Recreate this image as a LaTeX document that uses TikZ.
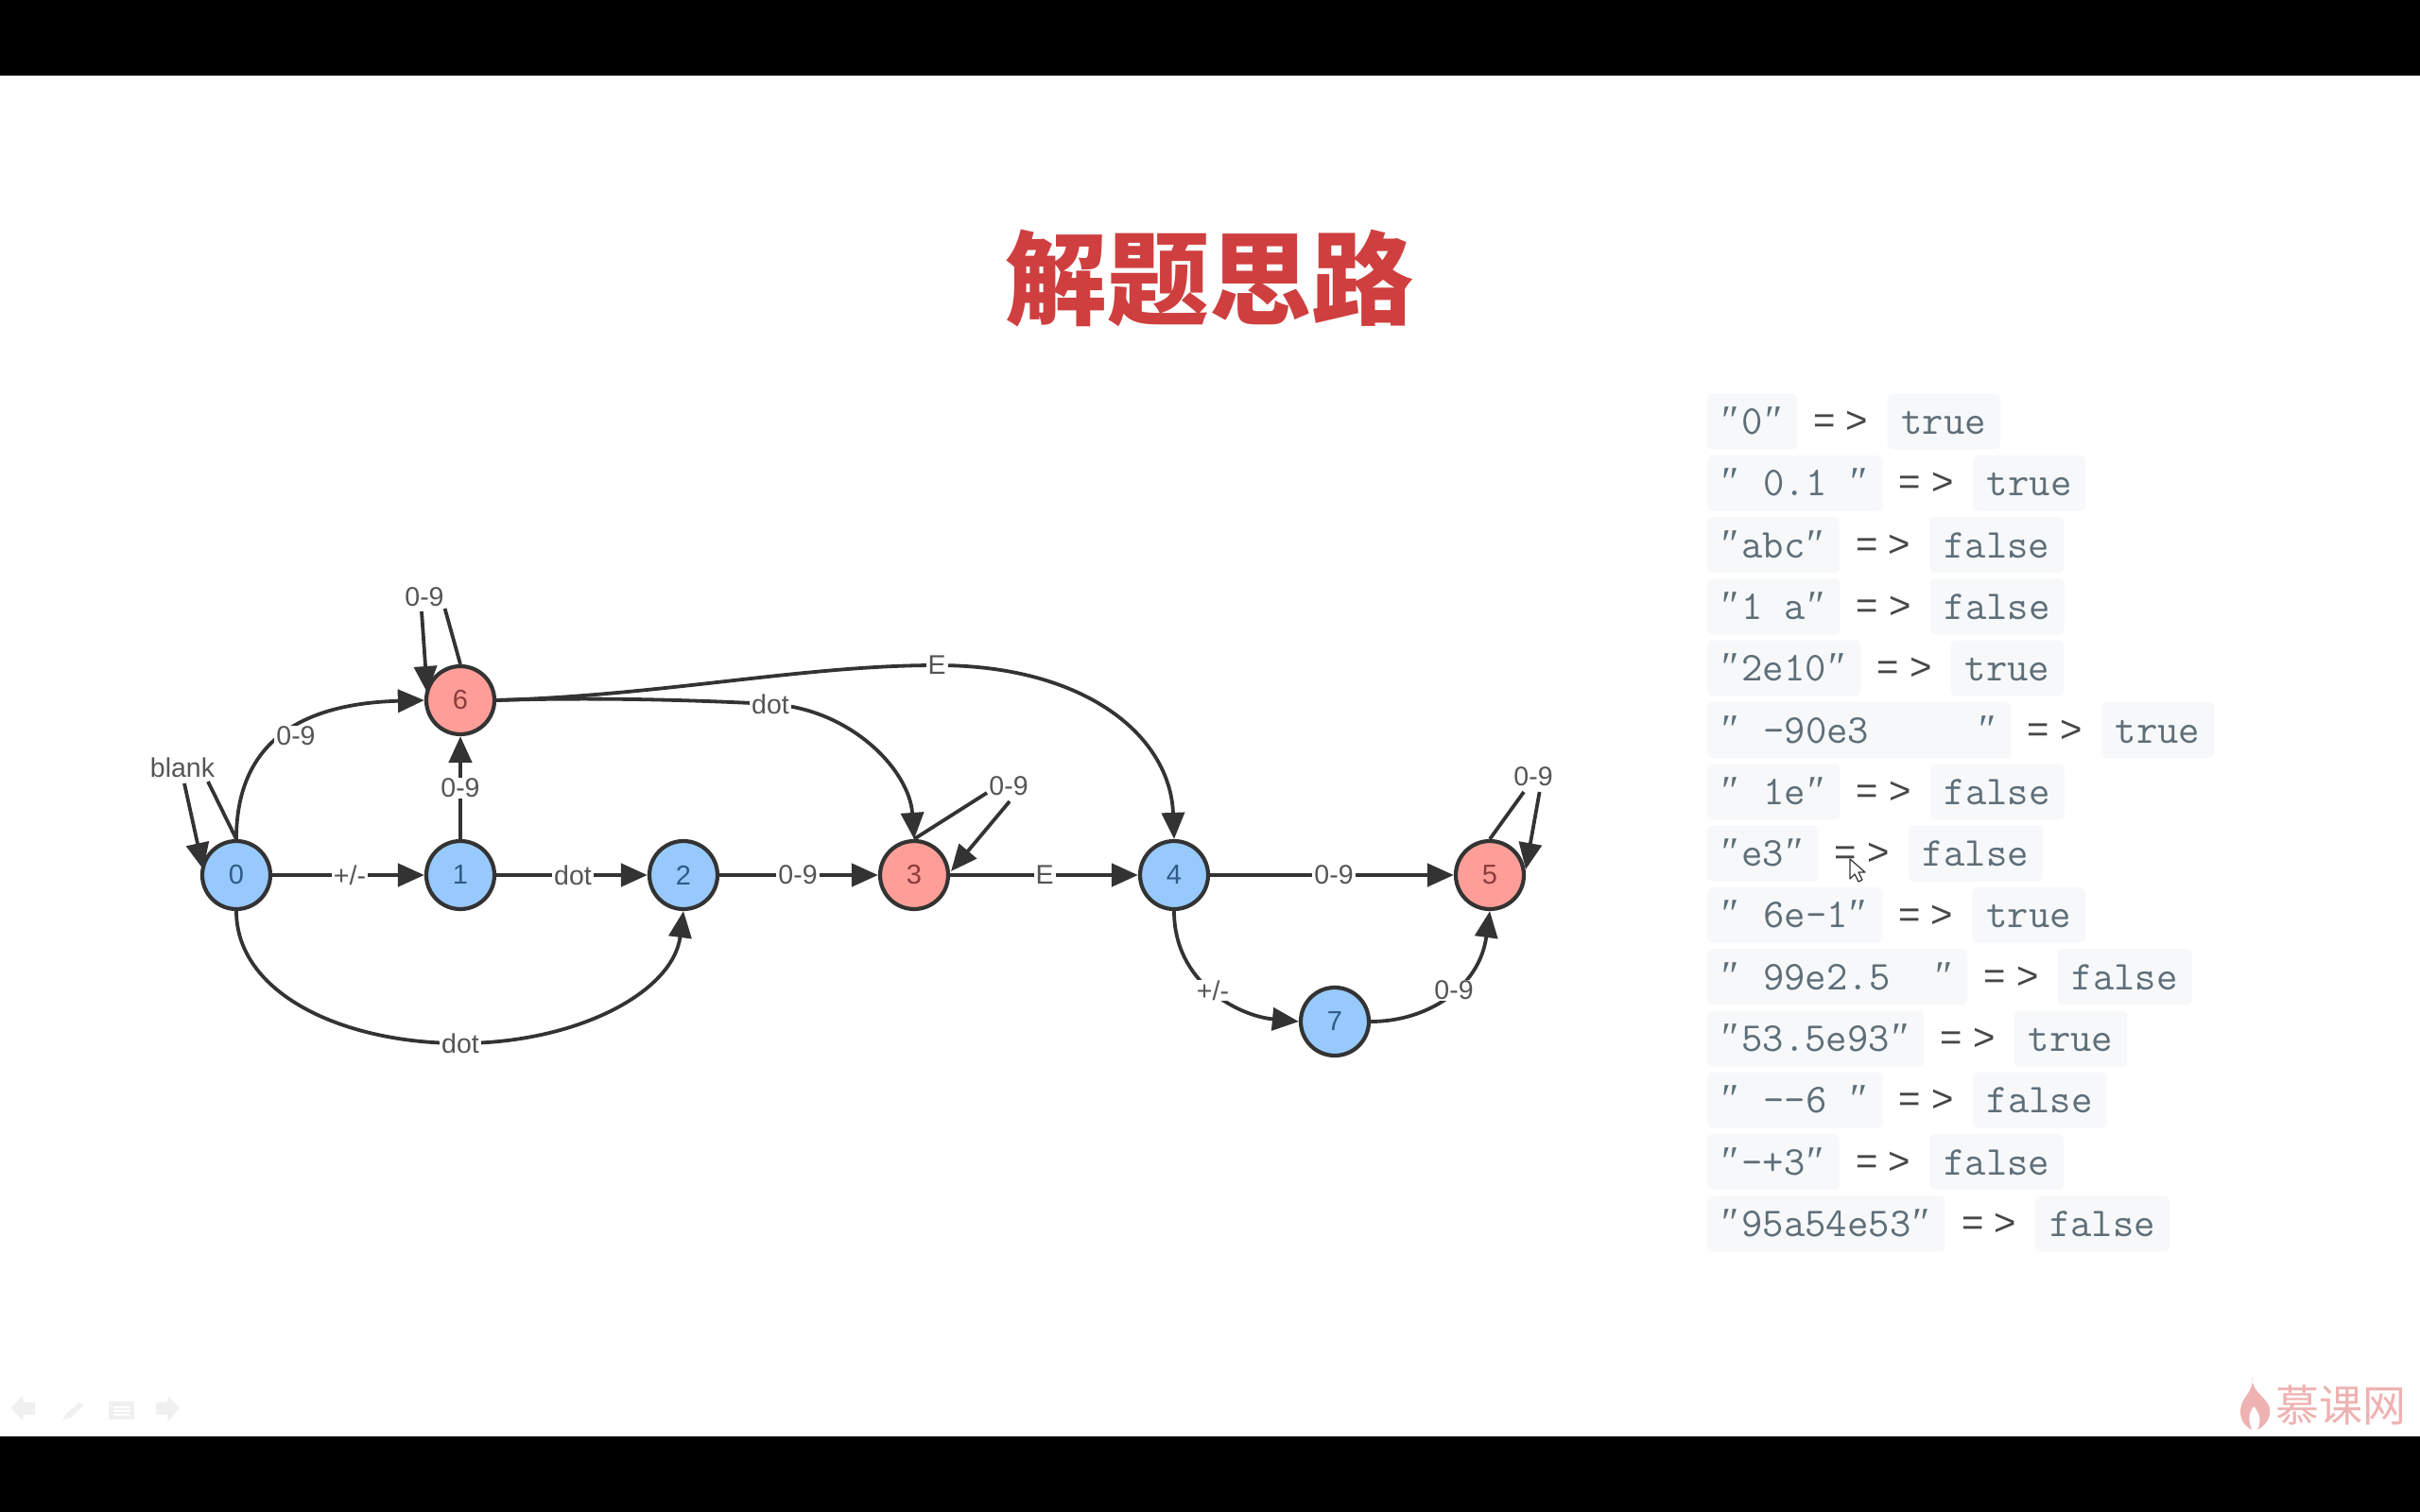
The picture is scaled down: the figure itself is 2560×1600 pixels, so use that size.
\documentclass[tikz,border=0pt]{standalone}
\usepackage{fontspec}
\setmainfont{Liberation Sans}
\newfontfamily\cjk{Noto Sans CJK SC}
\newfontfamily\qfont{Liberation Serif}
\usetikzlibrary{arrows.meta,calc}
\definecolor{blueF}{HTML}{97C9FD}
\definecolor{redF}{HTML}{FF9E98}
\definecolor{lineC}{HTML}{333333}
\definecolor{labC}{HTML}{555555}
\definecolor{codeBg}{HTML}{F6F8FA}
\definecolor{codeC}{HTML}{5E6E78}
\definecolor{titleC}{HTML}{CF3F3F}
\definecolor{markC}{HTML}{EEB2B2}
\definecolor{navC}{HTML}{F0F0F0}
\definecolor{blueT}{HTML}{2F5C86}
\definecolor{redT}{HTML}{8A3C3C}
\newcommand\Q{\makebox[22.8pt]{\qfont\fontsize{44}{44}\selectfont ″}}
\newcommand\SP{\hspace*{22.8pt}}
\tikzset{
  x=1pt,y=-1pt,
  state/.style={circle,draw=lineC,line width=4.2pt,minimum size=72pt,inner sep=0pt,
     font=\fontsize{29}{32}\selectfont},
  bluestate/.style={state,fill=blueF,text=blueT},
  redstate/.style={state,fill=redF,text=redT},
  edge/.style={draw=lineC,line width=4.6pt,-{Triangle[length=28pt,width=24pt]}},
  thin edge/.style={draw=lineC,line width=3.8pt,-{Triangle[length=28pt,width=24pt]}},
  plain edge/.style={draw=lineC,line width=3.8pt},
  elab/.style={fill=white,text=labC,inner xsep=2pt,inner ysep=1pt,font=\fontsize{28.5}{32}\selectfont},
  flab/.style={text=labC,inner sep=1pt,font=\fontsize{28.5}{32}\selectfont},
  cbox/.style={fill=codeBg,rounded corners=6pt,inner xsep=13.5pt,inner ysep=13.5pt,
     text height=29.5pt,text depth=2.5pt,text=codeC,
     font=\ttfamily\fontsize{43.43}{46}\selectfont},
  gives/.style={inner sep=0pt,text=lineC!90,font=\fontsize{40}{44}\selectfont},
}
\newcommand\rowline[4]{%
  \node[cbox,anchor=west] (a#1) at (1806,#2) {#3};
  \node[gives,anchor=west] (g#1) at ($(a#1.east)+(17,1)$) {=\hspace{11pt}>};
  \node[cbox,inner xsep=15pt,anchor=west] (b#1) at ($(a#1.east)+(95,0)$) {#4};
}
\begin{document}
\begin{tikzpicture}
\useasboundingbox (0,0) rectangle (2560,1600);
\fill[white] (0,0) rectangle (2560,1600);
\fill[black] (0,0) rectangle (2560,80);
\fill[black] (0,1520) rectangle (2560,1600);

\node[text=titleC,inner sep=0pt,font=\cjk\bfseries\fontsize{108}{112}\selectfont] (title) at (1279,295) {解题思路};

% states
\node[bluestate] (n0) at (250,926) {0};
\node[bluestate] (n1) at (487,926) {1};
\node[bluestate] (n2) at (723,926) {2};
\node[redstate]  (n3) at (967,926) {3};
\node[bluestate] (n4) at (1242,926) {4};
\node[redstate]  (n5) at (1576,926) {5};
\node[redstate]  (n6) at (487,741) {6};
\node[bluestate] (n7) at (1412,1081) {7};

% straight connectors
\draw[edge] (n0) -- (n1);
\draw[edge] (n1) -- (n2);
\draw[edge] (n2) -- (n3);
\draw[edge] (n3) -- (n4);
\draw[edge] (n4) -- (n5);
\draw[edge] (n1) -- (n6);

% curved connectors
\coordinate (c06) at (313,779);
\coordinate (c02) at (487,1104);
\coordinate (c64) at (991,704);
\coordinate (c63) at (815,745);
\coordinate (c47) at (1283,1048);
\coordinate (c75) at (1538,1048);
\draw[thin edge] (n0.north) .. controls (250,800) and (300,745) .. (n6.west);
\draw[thin edge] (n0.south) .. controls (250,1050) and (360,1104) .. (c02) .. controls (610,1104) and (712,1050) .. (n2.south);
\draw[thin edge] (n6.east) .. controls (700,736) and (850,704) .. (c64) .. controls (1150,704) and (1238,780) .. (n4.north);
\draw[thin edge] (n6.east) .. controls (620,738) and (720,740) .. (c63) .. controls (900,750) and (962,815) .. (n3.north);
\draw[thin edge] (n4.south) .. controls (1242,1040) and (1310,1075) .. (n7.west);
\draw[thin edge] (n7.east) .. controls (1510,1081) and (1565,1045) .. (n5.south);

% labels on connectors
\node[elab] (l01) at (370,926) {+/-};
\node[elab] (l12) at (606,926) {dot};
\node[elab] (l23) at (844,926) {0-9};
\node[elab] (l34) at (1105,926) {E};
\node[elab] (l45) at (1411,926) {0-9};
\node[elab] (l16) at (487,834) {0-9};
\node[elab] (l06) at (c06) {0-9};
\node[elab] (l02) at (c02) {dot};
\node[elab] (l64) at (c64) {E};
\node[elab] (l63) at (c63) {dot};
\node[elab] (l47) at (c47) {+/-};
\node[elab] (l75) at (c75) {0-9};

% self loops
\node[flab] (lp6) at (449,632) {0-9};
\coordinate (p6a) at (470.6,644);
\coordinate (p6b) at (446,647);
\coordinate (t6) at (452,733);
\draw[plain edge] (n6.north) -- (p6a);
\draw[thin edge] (p6b) -- (t6);

\node[flab] (lp0) at (193,812) {blank};
\coordinate (p0a) at (220,827);
\coordinate (p0b) at (195,829);
\coordinate (t0) at (215,920);
\draw[plain edge] (n0.north) -- (p0a);
\draw[thin edge] (p0b) -- (t0);

\node[flab] (lp3) at (1067,832) {0-9};
\coordinate (p3a) at (1044,839);
\coordinate (p3b) at (1068,848);
\coordinate (t3) at (1006,922);
\draw[plain edge] (n3.north) -- (p3a);
\draw[thin edge] (p3b) -- (t3);

\node[flab] (lp5) at (1622,822) {0-9};
\coordinate (p5a) at (1612,838);
\coordinate (p5b) at (1628.6,838);
\coordinate (t5) at (1614,920);
\draw[plain edge] (n5.north) -- (p5a);
\draw[thin edge] (p5b) -- (t5);

% code rows
\rowline{1}{446}{\Q 0\Q}{true}
\rowline{2}{511.3}{\Q\SP 0.1\SP\Q}{true}
\rowline{3}{576.6}{\Q abc\Q}{false}
\rowline{4}{641.9}{\Q 1\SP a\Q}{false}
\rowline{5}{707.2}{\Q 2e10\Q}{true}
\rowline{6}{772.5}{\Q\SP -90e3\SP\SP\SP\SP\SP\Q}{true}
\rowline{7}{837.8}{\Q\SP 1e\Q}{false}
\rowline{8}{903.1}{\Q e3\Q}{false}
\rowline{9}{968.4}{\Q\SP 6e-1\Q}{true}
\rowline{10}{1033.7}{\Q\SP 99e2.5\SP\SP\Q}{false}
\rowline{11}{1099}{\Q 53.5e93\Q}{true}
\rowline{12}{1164.3}{\Q\SP -{}-6\SP\Q}{false}
\rowline{13}{1229.6}{\Q -+3\Q}{false}
\rowline{14}{1294.9}{\Q 95a54e53\Q}{false}

% mouse cursor
\draw[fill=white,draw=lineC,line width=1.2pt,line join=round]
  (1957,909) -- (1957,930) -- (1962,925) -- (1966,933) -- (1970,931) -- (1966,923) -- (1973,923) -- cycle;

% nav icons
\fill[navC] (12,1490) -- (24,1477) -- (25,1484) -- (37,1484) -- (37,1497) -- (25,1497) -- (24,1504) -- cycle;
\fill[navC] (66,1503) -- (70,1496) -- (84,1484) -- (88,1487) -- (75,1500) -- cycle;
\fill[navC] (115,1483) rectangle (142,1502);
\draw[white,line width=1.5pt] (120,1489) -- (137,1489) (120,1493) -- (137,1493) (120,1497) -- (137,1497);
\fill[navC] (190,1490) -- (178,1477) -- (177,1484) -- (165,1484) -- (165,1497) -- (177,1497) -- (178,1504) -- cycle;

% watermark
\fill[markC] (2383,1457) .. controls (2380,1472) and (2398,1478) .. (2401,1490)
  .. controls (2403,1502) and (2394,1510) .. (2388,1513)
  .. controls (2393,1503) and (2390,1494) .. (2384,1488)
  .. controls (2380,1494) and (2377,1500) .. (2382,1513)
  .. controls (2372,1508) and (2368,1498) .. (2371,1487)
  .. controls (2373,1478) and (2384,1472) .. (2383,1457) -- cycle;
\node[text=markC,inner sep=0pt,font=\cjk\fontsize{46}{50}\selectfont] (mark) at (2476,1487) {慕课网};
\end{tikzpicture}
\end{document}
